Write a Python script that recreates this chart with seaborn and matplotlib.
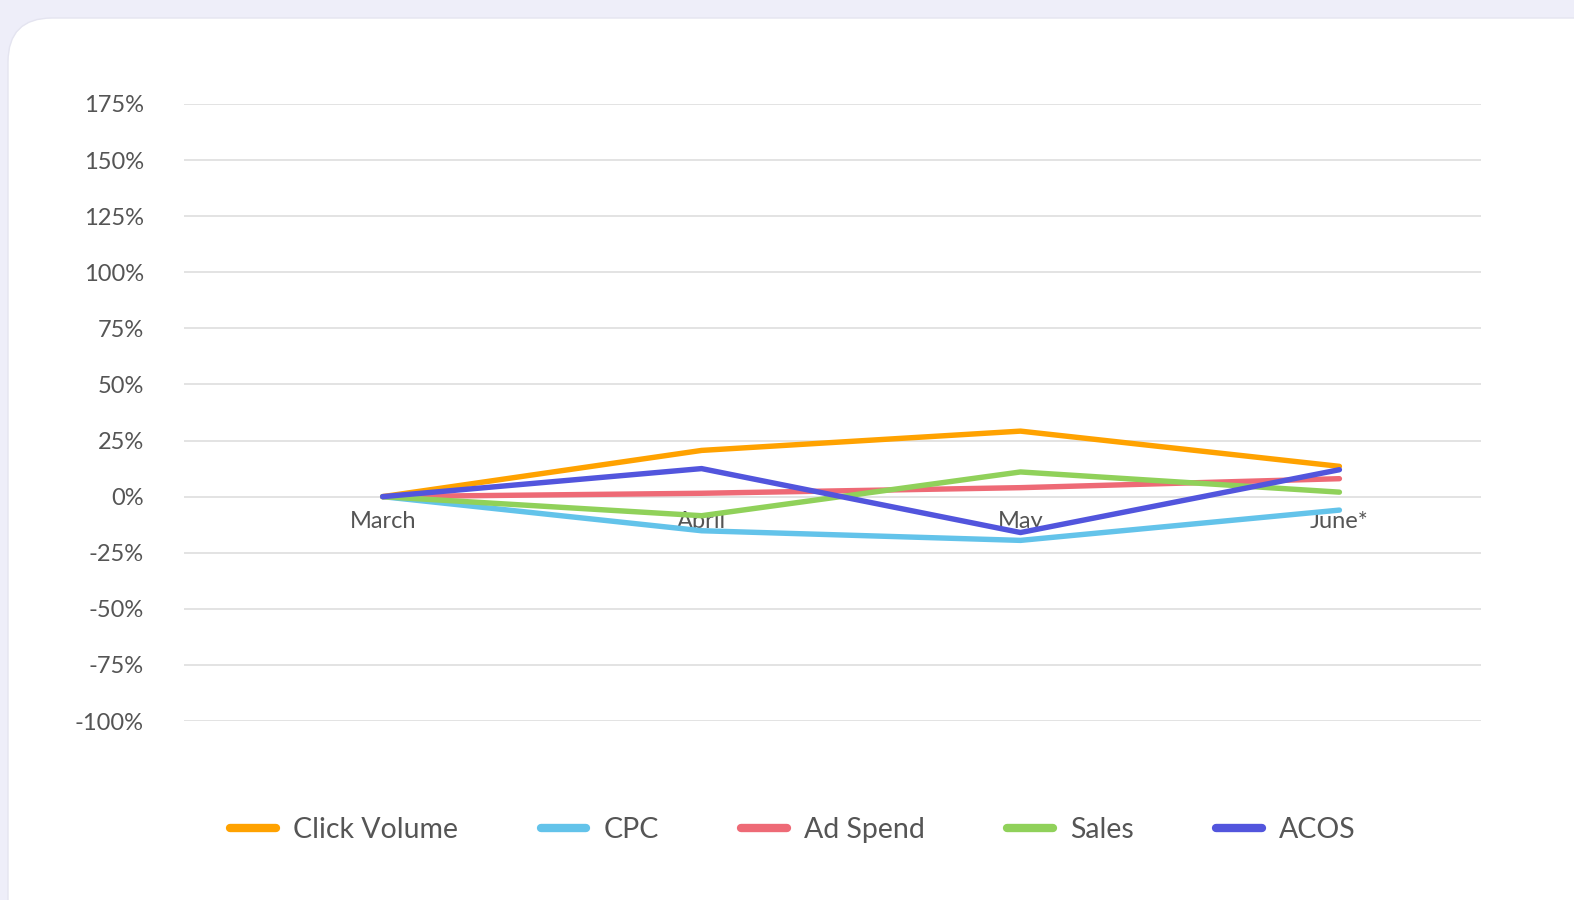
import matplotlib
matplotlib.use("Agg")
import matplotlib.pyplot as plt
import seaborn as sns
import pandas as pd
from matplotlib.patches import FancyBboxPatch
from matplotlib.lines import Line2D

months = ["March", "April", "May", "June*"]
click_volume = [0, 20.6, 29.2, 13.5]
cpc = [0, -15.2, -19.5, -6.0]
ad_spend = [0, 1.5, 4.0, 8.0]
sales = [0, -8.5, 11.0, 2.0]
acos = [0, 12.5, -16.0, 12.0]

series_names = ["Click Volume", "CPC", "Ad Spend", "Sales", "ACOS"]
series_values = [click_volume, cpc, ad_spend, sales, acos]
colors = ["#ffa200", "#63c3ea", "#ee6a76", "#90d15a", "#5255dd"]
y_ticks = [-100, -75, -50, -25, 0, 25, 50, 75, 100, 125, 150, 175]

rows = []
for name, vals in zip(series_names, series_values):
    for i, v in enumerate(vals):
        rows.append({"x": i, "month": months[i], "value": v, "series": name})
df = pd.DataFrame(rows)

sns.set_theme(style="white")
plt.rcParams["font.family"] = ["Lato", "DejaVu Sans"]

fig = plt.figure(figsize=(15.74, 9.0), dpi=100)
fig.patch.set_facecolor("#eeeef9")
card = FancyBboxPatch((8 / 1574, -0.1), 1.2, 1.1 - 18 / 900,
                      boxstyle="round,pad=0,rounding_size=0.028",
                      transform=fig.transFigure, facecolor="white",
                      edgecolor="#e4e4f0", linewidth=1, zorder=-5,
                      mutation_aspect=1574 / 900)
fig.patches.append(card)

ax = fig.add_axes([184 / 1574, 1 - 721 / 900, (1481 - 184) / 1574, (721 - 104) / 900])
ax.set_zorder(2)
ax.set_facecolor("none")

sns.lineplot(data=df, x="x", y="value", hue="series", hue_order=series_names,
             palette=colors, linewidth=3.9, ax=ax, legend=False,
             sort=False, estimator=None)
for ln in ax.get_lines():
    ln.set_solid_capstyle("round")
    ln.set_solid_joinstyle("round")

ax.set_xlim(-0.623, 3.444)
ax.set_ylim(-100, 175)
ax.set_yticks(y_ticks)
ax.set_yticklabels([f"{t}%" for t in y_ticks])
ax.grid(axis="y", color="#e3e3e3", linewidth=1.4)
ax.grid(axis="x", visible=False)
ax.set_axisbelow(True)
for s in ["top", "right", "left"]:
    ax.spines[s].set_visible(False)
ax.spines["bottom"].set_position(("data", 0))
ax.spines["bottom"].set_visible(False)
ax.set_xticks(range(len(months)))
ax.set_xticklabels(months)
ax.tick_params(axis="x", length=0, pad=10, labelsize=17, labelcolor="#555555")
ax.tick_params(axis="y", length=0, pad=29, labelsize=17, labelcolor="#555555")
ax.set_xlabel("")
ax.set_ylabel("")

handles = [Line2D([0], [0], color=c, linewidth=6, solid_capstyle="round")
           for c in colors]
leg = fig.legend(handles, series_names, loc="center", ncol=5,
                 bbox_to_anchor=(793 / 1574, 1 - 830 / 900), frameon=False,
                 fontsize=20.5, labelcolor="#555555", handlelength=1.6,
                 handletextpad=0.6, columnspacing=2.9)
leg.set_zorder(3)

fig.savefig("out.png", dpi=100, facecolor=fig.get_facecolor())
